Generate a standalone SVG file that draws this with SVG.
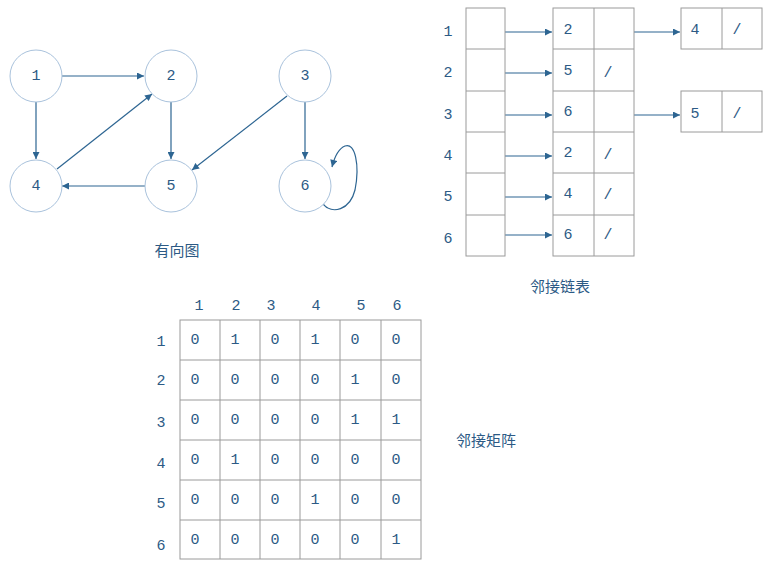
<svg xmlns="http://www.w3.org/2000/svg" width="772" height="569" viewBox="0 0 772 569">
<style>
text{font-family:"Liberation Mono","Noto Sans CJK SC",monospace;font-size:15px;fill:#2c5a85}
.c{text-anchor:middle;dominant-baseline:central}
.cn{font-family:"Noto Sans CJK SC",sans-serif;font-size:15px}
circle{fill:#fff;stroke:#a9c2dc;stroke-width:1}
.b{fill:#fff;stroke:#9a9a9a;stroke-width:1}
.e{stroke:#2d6592;stroke-width:1.2;fill:none;marker-end:url(#a)}
</style>
<defs><marker id="a" viewBox="0 0 10 10" refX="10" refY="5" markerWidth="9" markerHeight="7" orient="auto" markerUnits="userSpaceOnUse"><path d="M0,0L10,5L0,10z" fill="#2d6592"/></marker></defs>
<rect width="772" height="569" fill="#fff"/>
<g id="edges">
<line class="e" x1="62" y1="76" x2="144" y2="76"/>
<line class="e" x1="36" y1="102" x2="36" y2="159"/>
<line class="e" x1="57" y1="169" x2="152" y2="94"/>
<line class="e" x1="171" y1="102" x2="171" y2="159"/>
<line class="e" x1="145" y1="186" x2="62" y2="186"/>
<line class="e" x1="287" y1="96" x2="192" y2="170"/>
<line class="e" x1="305" y1="102" x2="305" y2="159"/>
<path class="e" d="M323,204C332,215 350,210 355,190C360,165 355,142 345,146C340,148 335,155 332,167"/>
<line class="e" x1="505" y1="32" x2="552" y2="32"/>
<line class="e" x1="505" y1="73" x2="552" y2="73"/>
<line class="e" x1="505" y1="115" x2="552" y2="115"/>
<line class="e" x1="505" y1="156" x2="552" y2="156"/>
<line class="e" x1="505" y1="197" x2="552" y2="197"/>
<line class="e" x1="505" y1="235" x2="552" y2="235"/>
<line class="e" x1="634" y1="32" x2="680" y2="32"/>
<line class="e" x1="634" y1="115" x2="680" y2="115"/>
</g>
<g id="n1"><circle cx="36" cy="76" r="26"/><text class="c" x="36" y="76">1</text></g>
<g id="n2"><circle cx="171" cy="76" r="26"/><text class="c" x="171" y="76">2</text></g>
<g id="n3"><circle cx="305" cy="76" r="26"/><text class="c" x="305" y="76">3</text></g>
<g id="n4"><circle cx="36" cy="186" r="26"/><text class="c" x="36" y="186">4</text></g>
<g id="n5"><circle cx="171" cy="186" r="26"/><text class="c" x="171" y="186">5</text></g>
<g id="n6"><circle cx="305" cy="186" r="26"/><text class="c" x="305" y="186">6</text></g>
<text class="cn c" x="177" y="249">有向图</text>
<g id="list">
<rect class="b" x="466" y="8" width="39" height="248"/>
<path class="b" d="M466,49H505M466,91H505M466,132H505M466,173H505M466,215H505"/>
<rect class="b" x="553" y="8" width="81" height="248"/>
<path class="b" d="M594,8V256M553,49H634M553,91H634M553,132H634M553,173H634M553,215H634"/>
<rect class="b" x="681" y="8" width="81" height="41"/><line class="b" x1="722" y1="8" x2="722" y2="49"/>
<rect class="b" x="681" y="91" width="81" height="41"/><line class="b" x1="722" y1="91" x2="722" y2="132"/>
<g class="c">
<text class="c" x="448" y="32">1</text><text class="c" x="448" y="73">2</text><text class="c" x="448" y="115">3</text><text class="c" x="448" y="156">4</text><text class="c" x="448" y="197">5</text><text class="c" x="448" y="239">6</text>
<text class="c" x="568" y="30">2</text><text class="c" x="568" y="71">5</text><text class="c" x="568" y="112">6</text><text class="c" x="568" y="153">2</text><text class="c" x="568" y="194">4</text><text class="c" x="568" y="235">6</text>
<text class="c" x="608" y="73">/</text><text class="c" x="608" y="155">/</text><text class="c" x="608" y="195">/</text><text class="c" x="608" y="235">/</text>
<text class="c" x="695" y="30">4</text><text class="c" x="737" y="30">/</text>
<text class="c" x="695" y="114">5</text><text class="c" x="737" y="114">/</text>
</g>
<text class="cn c" x="560" y="285">邻接链表</text>
</g>
<g id="matrix">
<rect class="b" x="180" y="320" width="241" height="239"/>
<path class="b" d="M220,320V559M260,320V559M300,320V559M340,320V559M381,320V559M180,360H421M180,400H421M180,440H421M180,480H421M180,520H421"/>
<text class="c" x="199" y="306">1</text><text class="c" x="236" y="306">2</text><text class="c" x="271" y="306">3</text><text class="c" x="316" y="306">4</text><text class="c" x="361" y="306">5</text><text class="c" x="397" y="306">6</text>
<text class="c" x="161" y="342">1</text><text class="c" x="161" y="381">2</text><text class="c" x="161" y="423">3</text><text class="c" x="161" y="464">4</text><text class="c" x="161" y="504">5</text><text class="c" x="161" y="546">6</text>
<g>
<text class="c" x="195" y="340">0</text><text class="c" x="235" y="340">1</text><text class="c" x="275" y="340">0</text><text class="c" x="315" y="340">1</text><text class="c" x="355" y="340">0</text><text class="c" x="396" y="340">0</text>
<text class="c" x="195" y="380">0</text><text class="c" x="235" y="380">0</text><text class="c" x="275" y="380">0</text><text class="c" x="315" y="380">0</text><text class="c" x="355" y="380">1</text><text class="c" x="396" y="380">0</text>
<text class="c" x="195" y="420">0</text><text class="c" x="235" y="420">0</text><text class="c" x="275" y="420">0</text><text class="c" x="315" y="420">0</text><text class="c" x="355" y="420">1</text><text class="c" x="396" y="420">1</text>
<text class="c" x="195" y="460">0</text><text class="c" x="235" y="460">1</text><text class="c" x="275" y="460">0</text><text class="c" x="315" y="460">0</text><text class="c" x="355" y="460">0</text><text class="c" x="396" y="460">0</text>
<text class="c" x="195" y="500">0</text><text class="c" x="235" y="500">0</text><text class="c" x="275" y="500">0</text><text class="c" x="315" y="500">1</text><text class="c" x="355" y="500">0</text><text class="c" x="396" y="500">0</text>
<text class="c" x="195" y="540">0</text><text class="c" x="235" y="540">0</text><text class="c" x="275" y="540">0</text><text class="c" x="315" y="540">0</text><text class="c" x="355" y="540">0</text><text class="c" x="396" y="540">1</text>
</g>
<text class="cn c" x="486" y="439">邻接矩阵</text>
</g>
</svg>
